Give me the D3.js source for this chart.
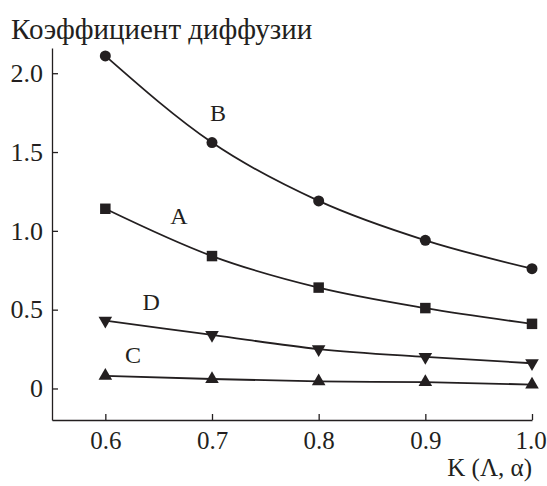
<!DOCTYPE html>
<html>
<head>
<meta charset="utf-8">
<script src="https://cdn.jsdelivr.net/npm/d3@7"></script>
<style>
    body { margin: 0; background: #fff; }
</style>
</head>
<body>
<svg id="chart" width="547" height="486" font-family="Liberation Serif, Times New Roman, DejaVu Serif, serif"></svg>
<script>
// Data
const kValues = [0.6, 0.7, 0.8, 0.9, 1.0];
const seriesB = [2.11, 1.56, 1.19, 0.94, 0.76];
const seriesA = [1.14, 0.84, 0.64, 0.51, 0.41];
const seriesD = [0.43, 0.34, 0.25, 0.20, 0.16];
const seriesC = [0.08, 0.06, 0.045, 0.04, 0.025];
const xTicks = [0.6, 0.7, 0.8, 0.9, 1.0];
const yTicks = [0, 0.5, 1.0, 1.5, 2.0];

const ink = "#231f20";
const serif = "Liberation Serif, Times New Roman, DejaVu Serif, serif";
const svg = d3.select("#chart");

// scales
const x = d3.scaleLinear().domain([0.55, 1.0]).range([52, 532]);
const y = d3.scaleLinear().domain([-0.2, 2.16]).range([420, 48]);

// axes, ticks point inward
const xAxis = d3.axisBottom(x)
    .tickValues(xTicks)
    .tickSize(-6)
    .tickSizeOuter(0)
    .tickPadding(11)
    .tickFormat(d => d.toFixed(1));

const yAxis = d3.axisLeft(y)
    .tickValues(yTicks)
    .tickSize(-6)
    .tickSizeOuter(0)
    .tickPadding(9)
    .tickFormat(d => d === 0 ? "0" : d.toFixed(1));

const gx = svg.append("g")
    .attr("transform", "translate(0," + y.range()[0] + ")")
    .call(xAxis);

const gy = svg.append("g")
    .attr("transform", "translate(" + x.range()[0] + ",0)")
    .call(yAxis);

gx.attr("font-family", serif).attr("font-size", 25);
gy.attr("font-family", serif).attr("font-size", 26);
[gx, gy].forEach(g => {
    g.selectAll("path, line").attr("stroke", ink).attr("stroke-width", 1.3);
    g.selectAll("text").attr("fill", ink);
});
// last x label sits at the page edge, nudge it in a little
gx.selectAll(".tick text").filter(d => d === 1.0).attr("dx", -1.5);

// axis titles
svg.append("text")
    .attr("x", 11)
    .attr("y", 39)
    .attr("font-size", 29)
    .attr("fill", ink)
    .text("Коэффициент диффузии");

svg.append("text")
    .attr("x", 532)
    .attr("y", 476)
    .attr("text-anchor", "end")
    .attr("font-size", 25)
    .attr("fill", ink)
    .text("K (\u039B, \u03B1)");

// series
const series = [
    { name: "B", values: seriesB, symbol: d3.symbolCircle, size: 95, rotate: 0 },
    { name: "A", values: seriesA, symbol: d3.symbolSquare, size: 110, rotate: 0 },
    { name: "D", values: seriesD, symbol: d3.symbolTriangle, size: 80, rotate: 180 },
    { name: "C", values: seriesC, symbol: d3.symbolTriangle, size: 80, rotate: 0 }
];

const line = d3.line()
    .x(d => x(d[0]))
    .y(d => y(d[1]))
    .curve(d3.curveMonotoneX);

series.forEach(s => {
    let pts = kValues.map((k, i) => [k, s.values[i]]);

    svg.append("path")
        .attr("d", line(pts))
        .attr("fill", "none")
        .attr("stroke", ink)
        .attr("stroke-width", 1.8);

    svg.append("g")
        .selectAll("path")
        .data(pts)
        .enter()
        .append("path")
        .attr("d", d3.symbol().type(s.symbol).size(s.size))
        .attr("transform", d => "translate(" + x(d[0]) + "," + y(d[1]) + ") rotate(" + s.rotate + ")")
        .attr("fill", ink);
});

// curve labels, placed in data coordinates
const labelAt = { B: [0.7056, 1.75], A: [0.669, 1.095], D: [0.643, 0.551], C: [0.626, 0.213] };

Object.keys(labelAt).forEach(name => {
    svg.append("text")
        .attr("x", x(labelAt[name][0]))
        .attr("y", y(labelAt[name][1]))
        .attr("text-anchor", "middle")
        .attr("dy", "0.35em")
        .attr("font-size", 24)
        .attr("fill", ink)
        .text(name);
});
</script>
</body>
</html>
